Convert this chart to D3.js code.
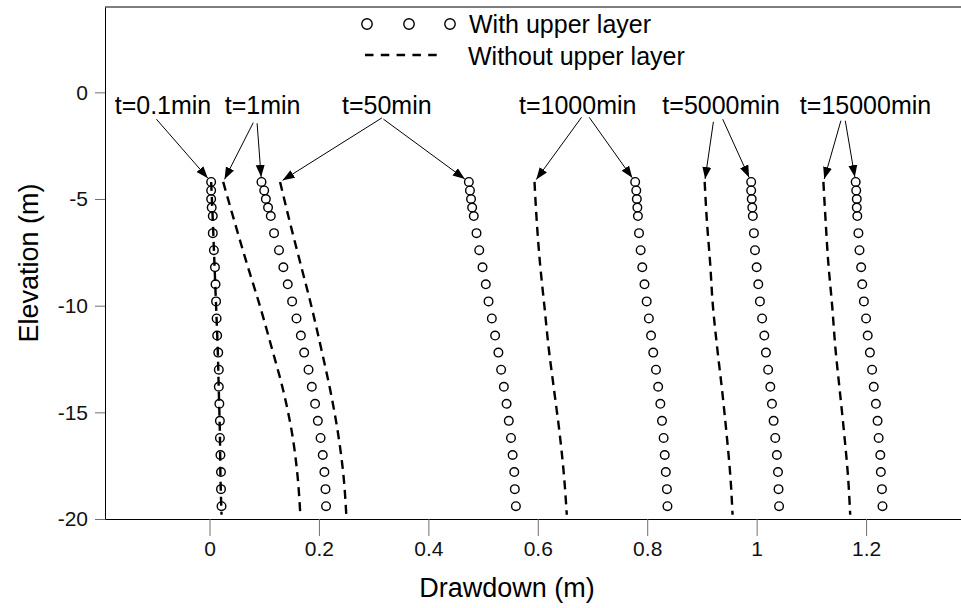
<!DOCTYPE html>
<html>
<head>
<meta charset="utf-8">
<script src="https://cdn.jsdelivr.net/npm/d3@7/dist/d3.min.js"></script>
<style>
    body { margin: 0; background: #fff; }
    svg { display: block; font-family: "Liberation Sans", Arial, sans-serif; }
</style>
</head>
<body>
<div class="container"></div>
<script>
// Elevations of the observation points (m)
const elevations = [-4.2, -4.6, -5.0, -5.4, -5.8, -6.6, -7.4, -8.2, -9.0, -9.8, -10.6,
    -11.4, -12.2, -13.0, -13.8, -14.6, -15.4, -16.2, -17.0, -17.8, -18.6, -19.4]
const lineElevations = [-4.2, -6, -8, -10, -12, -14, -16, -18, -19.8]

const times = ["t=0.1min", "t=1min", "t=50min", "t=1000min", "t=5000min", "t=15000min"]

// With upper layer (circles), drawdown in m
const with01 = [0.003, 0.003, 0.003, 0.004, 0.006, 0.006, 0.008, 0.010, 0.011, 0.012, 0.013,
    0.014, 0.016, 0.017, 0.017, 0.018, 0.019, 0.019, 0.020, 0.021, 0.021, 0.022]
const with1 = [0.095, 0.100, 0.103, 0.107, 0.112, 0.118, 0.127, 0.135, 0.143, 0.151, 0.159,
    0.167, 0.173, 0.181, 0.187, 0.193, 0.198, 0.203, 0.207, 0.210, 0.212, 0.213]
const with50 = [0.474, 0.476, 0.478, 0.480, 0.483, 0.488, 0.493, 0.499, 0.505, 0.510, 0.516,
    0.522, 0.528, 0.533, 0.538, 0.543, 0.547, 0.551, 0.554, 0.557, 0.558, 0.560]
const with1000 = [0.778, 0.780, 0.781, 0.782, 0.783, 0.785, 0.788, 0.791, 0.795, 0.799, 0.803,
    0.807, 0.811, 0.816, 0.820, 0.824, 0.827, 0.830, 0.832, 0.834, 0.836, 0.837]
const with5000 = [0.990, 0.990, 0.991, 0.992, 0.993, 0.995, 0.997, 1.000, 1.003, 1.006, 1.010,
    1.014, 1.017, 1.021, 1.025, 1.028, 1.031, 1.034, 1.037, 1.039, 1.040, 1.041]
const with15000 = [1.181, 1.182, 1.183, 1.183, 1.184, 1.186, 1.188, 1.191, 1.193, 1.196, 1.200,
    1.203, 1.207, 1.211, 1.214, 1.218, 1.221, 1.223, 1.226, 1.227, 1.229, 1.230]

// Without upper layer (dashed lines)
const without01 = [0.003, 0.006, 0.009, 0.012, 0.015, 0.017, 0.019, 0.020, 0.022]
const without1 = [0.025, 0.045, 0.068, 0.092, 0.114, 0.135, 0.151, 0.161, 0.166]
const without50 = [0.129, 0.146, 0.166, 0.186, 0.204, 0.221, 0.235, 0.245, 0.250]
const without1000 = [0.594, 0.598, 0.604, 0.612, 0.620, 0.630, 0.640, 0.648, 0.653]
const without5000 = [0.905, 0.909, 0.915, 0.920, 0.928, 0.937, 0.945, 0.952, 0.956]
const without15000 = [1.122, 1.126, 1.131, 1.138, 1.144, 1.152, 1.160, 1.167, 1.171]

const xTicks = [0, 0.2, 0.4, 0.6, 0.8, 1, 1.2]
const xTickLabels = ["0", "0.2", "0.4", "0.6", "0.8", "1", "1.2"]
const yTicks = [0, -5, -10, -15, -20]
const yTickLabels = ["0", "-5", "-10", "-15", "-20"]

// label anchors (drawdown, elevation) and arrow starts, one entry per time
const labelX = [-0.085, 0.097, 0.324, 0.673, 0.935, 1.199]
const labelElev = -1.0
const arrows = [
    {t: 0, from: [-0.097, -1.26], to: "with"},
    {t: 1, from: [0.080, -1.42], to: "without"},
    {t: 1, from: [0.087, -1.45], to: "with"},
    {t: 2, from: [0.315, -1.20], to: "without"},
    {t: 2, from: [0.318, -1.26], to: "with"},
    {t: 3, from: [0.680, -1.17], to: "without"},
    {t: 3, from: [0.694, -1.17], to: "with"},
    {t: 4, from: [0.921, -1.38], to: "without"},
    {t: 4, from: [0.938, -1.26], to: "with"},
    {t: 5, from: [1.154, -1.33], to: "without"},
    {t: 5, from: [1.162, -1.33], to: "with"}
]

const withSeries = [with01, with1, with50, with1000, with5000, with15000]
const withoutSeries = [without01, without1, without50, without1000, without5000, without15000]

// Size of plot
const width = 961
const height = 608
const margin = {top: 7, right: 0, bottom: 89, left: 105}

const svg = d3.select(".container")
    .append("svg")
    .attr("width", width)
    .attr("height", height)

const xScale = d3.scaleLinear()
    .domain([-0.191, 1.3735])
    .range([margin.left, width - margin.right])

const yScale = d3.scaleLinear()
    .domain([-20, 4])
    .range([height - margin.bottom, margin.top])

// Axes
const xAxis = svg.append("g")
    .attr("transform", `translate(0, ${yScale(-20)})`)
    .call(d3.axisBottom(xScale).tickValues(xTicks).tickSize(17).tickSizeOuter(0).tickPadding(5)
        .tickFormat((d, i) => xTickLabels[i]))
xAxis.select(".domain").attr("stroke", "#000")
xAxis.selectAll(".tick line").attr("stroke", "#707070")
xAxis.selectAll(".tick text").attr("font-size", 21).attr("fill", "#111")
    .attr("font-family", "Liberation Sans, Arial, sans-serif")

const yAxis = svg.append("g")
    .attr("transform", `translate(${xScale.range()[0]}, 0)`)
    .call(d3.axisLeft(yScale).tickValues(yTicks).tickSize(10).tickSizeOuter(0).tickPadding(7)
        .tickFormat((d, i) => yTickLabels[i]))
yAxis.select(".domain").attr("stroke", "#000")
yAxis.selectAll(".tick line").attr("stroke", "#707070")
yAxis.selectAll(".tick text").attr("font-size", 21).attr("fill", "#111")
    .attr("font-family", "Liberation Sans, Arial, sans-serif")

// top border
svg.append("line")
    .attr("x1", xScale.range()[0])
    .attr("x2", xScale.range()[1])
    .attr("y1", yScale(4))
    .attr("y2", yScale(4))
    .attr("stroke", "#000")

// Axis titles
svg.append("text")
    .attr("x", 507)
    .attr("y", 597)
    .attr("text-anchor", "middle")
    .attr("font-size", 27)
    .text("Drawdown (m)")

svg.append("text")
    .attr("transform", `translate(38, ${(yScale(4) + yScale(-20)) / 2}) rotate(-90)`)
    .attr("text-anchor", "middle")
    .attr("font-size", 27)
    .text("Elevation (m)")

// Circles (with upper layer)
const circleGroup = svg.append("g")
withSeries.forEach(series => {
    circleGroup.selectAll(null)
        .data(series)
        .enter()
        .append("circle")
        .attr("cx", d => xScale(d))
        .attr("cy", (d, i) => yScale(elevations[i]))
        .attr("r", 4.3)
        .attr("fill", "none")
        .attr("stroke", "#000")
        .attr("stroke-width", 1.4)
})

// Dashed lines (without upper layer)
const line = d3.line()
    .x(d => xScale(d[0]))
    .y(d => yScale(d[1]))
    .curve(d3.curveMonotoneY)

withoutSeries.forEach(series => {
    svg.append("path")
        .datum(series.map((v, i) => [v, lineElevations[i]]))
        .attr("d", line)
        .attr("fill", "none")
        .attr("stroke", "#000")
        .attr("stroke-width", 2.4)
        .attr("stroke-dasharray", "9,6")
})

// Arrow marker
svg.append("defs").append("marker")
    .attr("id", "arrowhead")
    .attr("markerUnits", "userSpaceOnUse")
    .attr("markerWidth", 14)
    .attr("markerHeight", 12)
    .attr("viewBox", "0 -6 14 12")
    .attr("refX", 12)
    .attr("refY", 0)
    .attr("orient", "auto")
    .append("path")
    .attr("d", "M0,-4.5L12,0L0,4.5Z")
    .attr("fill", "#000")

// Annotations
svg.append("g").selectAll("text")
    .data(times)
    .enter()
    .append("text")
    .attr("x", (d, i) => xScale(labelX[i]))
    .attr("y", yScale(labelElev))
    .attr("text-anchor", "middle")
    .attr("font-size", 25)
    .text(d => d)

arrows.forEach(a => {
    const x0 = xScale(a.from[0]), y0 = yScale(a.from[1])
    const target = a.to === "with" ? withSeries[a.t][0] : withoutSeries[a.t][0]
    const tx = xScale(target), ty = yScale(a.to === "with" ? elevations[0] : lineElevations[0])
    const len = Math.hypot(tx - x0, ty - y0)
    const gap = a.to === "with" ? 5 : 3
    svg.append("line")
        .attr("x1", x0)
        .attr("y1", y0)
        .attr("x2", tx - (tx - x0) / len * gap)
        .attr("y2", ty - (ty - y0) / len * gap)
        .attr("stroke", "#000")
        .attr("stroke-width", 1)
        .attr("marker-end", "url(#arrowhead)")
})

// Legend
const legend = svg.append("g").attr("id", "legend")
const legendCircles = [367, 409, 450]
legend.selectAll("circle")
    .data(legendCircles)
    .enter()
    .append("circle")
    .attr("cx", d => d)
    .attr("cy", 24)
    .attr("r", 5.2)
    .attr("fill", "none")
    .attr("stroke", "#000")
    .attr("stroke-width", 1.4)
legend.append("text")
    .attr("x", 469)
    .attr("y", 33)
    .attr("font-size", 25)
    .text("With upper layer")

legend.append("line")
    .attr("x1", 365)
    .attr("x2", 437)
    .attr("y1", 55)
    .attr("y2", 55)
    .attr("stroke", "#000")
    .attr("stroke-width", 2.4)
    .attr("stroke-dasharray", "8.5,7.3")
legend.append("text")
    .attr("x", 468)
    .attr("y", 65)
    .attr("font-size", 25)
    .text("Without upper layer")
</script>
</body>
</html>
